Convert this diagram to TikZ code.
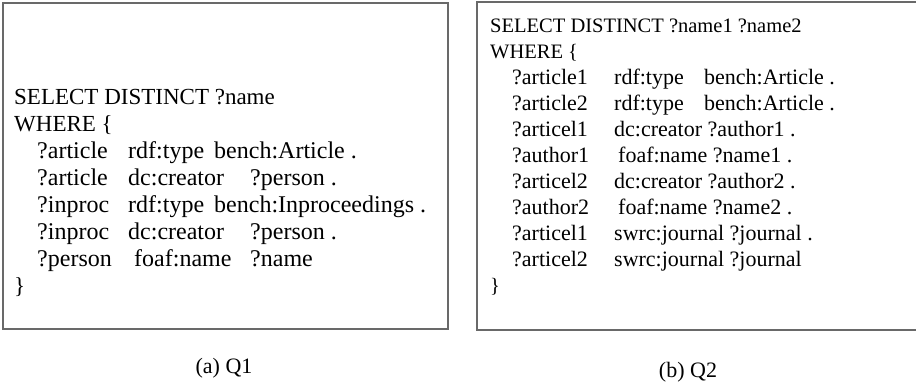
\documentclass[tikz,border=0pt]{standalone}
\usepackage{fontspec}
\setmainfont{Liberation Serif}
\definecolor{framegray}{RGB}{105,105,105}
\begin{document}
\begin{tikzpicture}[x=1pt,y=-1pt,
  frame/.style={draw=framegray, line width=1.4pt},
  qhead/.style={anchor=base west, inner sep=0pt, font=\fontsize{23}{27}\selectfont},
  qtext/.style={anchor=base west, inner sep=0pt, font=\fontsize{24}{27}\selectfont},
  qheadb/.style={anchor=base west, inner sep=0pt, font=\fontsize{20.5}{26}\selectfont},
  qtextb/.style={anchor=base west, inner sep=0pt, font=\fontsize{22}{26}\selectfont},
  captext/.style={anchor=base, inner sep=0pt, font=\fontsize{22}{26}\selectfont}]
\useasboundingbox (0,0) rectangle (916,383);
\clip (0,0) rectangle (916,383);

% ---- Query Q1 ----
\draw[frame] (3,3) rectangle (448,329);
\node[qhead] (a0) at (14,104) {SELECT DISTINCT ?name};
\node[qhead] (a1) at (14,131) {WHERE \{};
\node[qtext] (a2s) at (37,158) {?article};
\node[qtext] (a2p) at (128,158) {rdf:type};
\node[qtext] (a2o) at (214,158) {bench:Article .};
\node[qtext] (a3s) at (37,185) {?article};
\node[qtext] (a3p) at (128,185) {dc:creator};
\node[qtext] (a3o) at (250,185) {?person .};
\node[qtext] (a4s) at (37,212) {?inproc};
\node[qtext] (a4p) at (128,212) {rdf:type};
\node[qtext] (a4o) at (214,212) {bench:Inproceedings .};
\node[qtext] (a5s) at (37,239) {?inproc};
\node[qtext] (a5p) at (128,239) {dc:creator};
\node[qtext] (a5o) at (250,239) {?person .};
\node[qtext] (a6s) at (37,266) {?person};
\node[qtext] (a6p) at (134,266) {foaf:name};
\node[qtext] (a6o) at (250,266) {?name};
\node[qhead] (a7) at (14,293) {\}};
\node[captext] (capa) at (224,373) {(a) Q1};

% ---- Query Q2 ----
\draw[frame] (477,2) rectangle (930,330);
\node[qheadb] (b0) at (490,32) {SELECT DISTINCT ?name1 ?name2};
\node[qheadb] (b1) at (490,58) {WHERE \{};
\node[qtextb] (b2s) at (512,84) {?article1};
\node[qtextb] (b2p) at (614,84) {rdf:type};
\node[qtextb] (b2o) at (704,84) {bench:Article .};
\node[qtextb] (b3s) at (512,110) {?article2};
\node[qtextb] (b3p) at (614,110) {rdf:type};
\node[qtextb] (b3o) at (704,110) {bench:Article .};
\node[qtextb] (b4s) at (512,136) {?articel1};
\node[qtextb] (b4p) at (614,136) {dc:creator ?author1 .};
\node[qtextb] (b5s) at (512,162) {?author1};
\node[qtextb] (b5p) at (618,162) {foaf:name ?name1 .};
\node[qtextb] (b6s) at (512,188) {?articel2};
\node[qtextb] (b6p) at (614,188) {dc:creator ?author2 .};
\node[qtextb] (b7s) at (512,214) {?author2};
\node[qtextb] (b7p) at (618,214) {foaf:name ?name2 .};
\node[qtextb] (b8s) at (512,240) {?articel1};
\node[qtextb] (b8p) at (614,240) {swrc:journal ?journal .};
\node[qtextb] (b9s) at (512,266) {?articel2};
\node[qtextb] (b9p) at (614,266) {swrc:journal ?journal};
\node[qheadb] (b10) at (490,292) {\}};
\node[captext] (capb) at (688,377) {(b) Q2};
\end{tikzpicture}
\end{document}
